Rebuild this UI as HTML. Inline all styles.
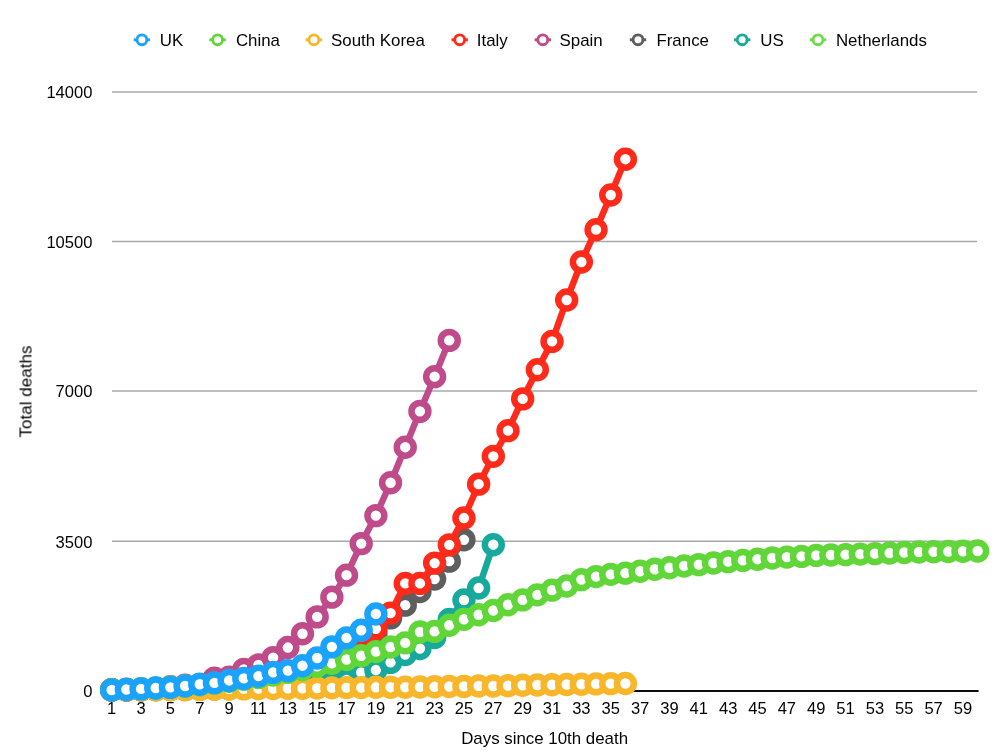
<!DOCTYPE html>
<html><head><meta charset="utf-8"><title>Chart</title>
<style>html,body{margin:0;padding:0;background:#fff;}body{width:1000px;height:754px;position:relative;overflow:hidden;font-family:"Liberation Sans",sans-serif;}</style></head>
<body>
<svg width="1000" height="754" viewBox="0 0 1000 754" style="position:absolute;left:0;top:0">
<line x1="112" y1="92.00" x2="977.2" y2="92.00" stroke="#a9a9a9" stroke-width="1.6"/>
<line x1="112" y1="241.50" x2="977.2" y2="241.50" stroke="#a9a9a9" stroke-width="1.6"/>
<line x1="112" y1="391.00" x2="977.2" y2="391.00" stroke="#a9a9a9" stroke-width="1.6"/>
<line x1="112" y1="541.30" x2="977.2" y2="541.30" stroke="#a9a9a9" stroke-width="1.6"/>
<line x1="111" y1="691" x2="978.6" y2="691" stroke="#0d0d0d" stroke-width="2"/>
<g stroke="#6FDB4A" fill="#fff">
<polyline points="111.70,689.97 126.38,689.89 141.05,689.55 155.73,689.37 170.41,688.56 185.09,687.92 199.76,687.15 214.44,685.87 229.12,684.59 243.79,682.75 258.47,681.30 273.15,678.60 287.83,675.18 302.50,671.85 317.18,667.06 331.86,663.09 346.53,657.45 361.21,653.47 375.89,645.99" fill="none" stroke-width="6.45" stroke-linejoin="round" stroke-linecap="round"/>
<circle cx="111.70" cy="689.97" r="8.45" stroke-width="6.5"/>
<circle cx="126.38" cy="689.89" r="8.45" stroke-width="6.5"/>
<circle cx="141.05" cy="689.55" r="8.45" stroke-width="6.5"/>
<circle cx="155.73" cy="689.37" r="8.45" stroke-width="6.5"/>
<circle cx="170.41" cy="688.56" r="8.45" stroke-width="6.5"/>
<circle cx="185.09" cy="687.92" r="8.45" stroke-width="6.5"/>
<circle cx="199.76" cy="687.15" r="8.45" stroke-width="6.5"/>
<circle cx="214.44" cy="685.87" r="8.45" stroke-width="6.5"/>
<circle cx="229.12" cy="684.59" r="8.45" stroke-width="6.5"/>
<circle cx="243.79" cy="682.75" r="8.45" stroke-width="6.5"/>
<circle cx="258.47" cy="681.30" r="8.45" stroke-width="6.5"/>
<circle cx="273.15" cy="678.60" r="8.45" stroke-width="6.5"/>
<circle cx="287.83" cy="675.18" r="8.45" stroke-width="6.5"/>
<circle cx="302.50" cy="671.85" r="8.45" stroke-width="6.5"/>
<circle cx="317.18" cy="667.06" r="8.45" stroke-width="6.5"/>
<circle cx="331.86" cy="663.09" r="8.45" stroke-width="6.5"/>
<circle cx="346.53" cy="657.45" r="8.45" stroke-width="6.5"/>
<circle cx="361.21" cy="653.47" r="8.45" stroke-width="6.5"/>
<circle cx="375.89" cy="645.99" r="8.45" stroke-width="6.5"/>
</g>
<g stroke="#17A99C" fill="#fff">
<polyline points="111.70,689.93 126.38,689.89 141.05,689.80 155.73,689.67 170.41,689.50 185.09,689.46 199.76,689.20 214.44,688.86 229.12,688.69 243.79,688.39 258.47,688.09 273.15,687.71 287.83,686.77 302.50,685.78 317.18,683.99 331.86,681.85 346.53,679.97 361.21,672.49 375.89,670.01 390.57,662.40 405.24,654.54 419.92,648.51 434.60,637.48 449.27,619.40 463.95,600.04 478.63,588.07 493.31,544.69" fill="none" stroke-width="6.45" stroke-linejoin="round" stroke-linecap="round"/>
<circle cx="111.70" cy="689.93" r="8.45" stroke-width="6.5"/>
<circle cx="126.38" cy="689.89" r="8.45" stroke-width="6.5"/>
<circle cx="141.05" cy="689.80" r="8.45" stroke-width="6.5"/>
<circle cx="155.73" cy="689.67" r="8.45" stroke-width="6.5"/>
<circle cx="170.41" cy="689.50" r="8.45" stroke-width="6.5"/>
<circle cx="185.09" cy="689.46" r="8.45" stroke-width="6.5"/>
<circle cx="199.76" cy="689.20" r="8.45" stroke-width="6.5"/>
<circle cx="214.44" cy="688.86" r="8.45" stroke-width="6.5"/>
<circle cx="229.12" cy="688.69" r="8.45" stroke-width="6.5"/>
<circle cx="243.79" cy="688.39" r="8.45" stroke-width="6.5"/>
<circle cx="258.47" cy="688.09" r="8.45" stroke-width="6.5"/>
<circle cx="273.15" cy="687.71" r="8.45" stroke-width="6.5"/>
<circle cx="287.83" cy="686.77" r="8.45" stroke-width="6.5"/>
<circle cx="302.50" cy="685.78" r="8.45" stroke-width="6.5"/>
<circle cx="317.18" cy="683.99" r="8.45" stroke-width="6.5"/>
<circle cx="331.86" cy="681.85" r="8.45" stroke-width="6.5"/>
<circle cx="346.53" cy="679.97" r="8.45" stroke-width="6.5"/>
<circle cx="361.21" cy="672.49" r="8.45" stroke-width="6.5"/>
<circle cx="375.89" cy="670.01" r="8.45" stroke-width="6.5"/>
<circle cx="390.57" cy="662.40" r="8.45" stroke-width="6.5"/>
<circle cx="405.24" cy="654.54" r="8.45" stroke-width="6.5"/>
<circle cx="419.92" cy="648.51" r="8.45" stroke-width="6.5"/>
<circle cx="434.60" cy="637.48" r="8.45" stroke-width="6.5"/>
<circle cx="449.27" cy="619.40" r="8.45" stroke-width="6.5"/>
<circle cx="463.95" cy="600.04" r="8.45" stroke-width="6.5"/>
<circle cx="478.63" cy="588.07" r="8.45" stroke-width="6.5"/>
<circle cx="493.31" cy="544.69" r="8.45" stroke-width="6.5"/>
</g>
<g stroke="#5E5E5E" fill="#fff">
<polyline points="111.70,689.72 126.38,689.59 141.05,689.12 155.73,688.99 170.41,688.35 185.09,687.79 199.76,687.02 214.44,686.51 229.12,684.97 243.79,684.07 258.47,682.92 273.15,679.12 287.83,674.50 302.50,671.17 317.18,666.38 331.86,661.59 346.53,653.64 361.21,643.38 375.89,633.51 390.57,617.91 405.24,605.13 419.92,591.49 434.60,579.01 449.27,561.15 463.95,539.82" fill="none" stroke-width="6.45" stroke-linejoin="round" stroke-linecap="round"/>
<circle cx="111.70" cy="689.72" r="8.45" stroke-width="6.5"/>
<circle cx="126.38" cy="689.59" r="8.45" stroke-width="6.5"/>
<circle cx="141.05" cy="689.12" r="8.45" stroke-width="6.5"/>
<circle cx="155.73" cy="688.99" r="8.45" stroke-width="6.5"/>
<circle cx="170.41" cy="688.35" r="8.45" stroke-width="6.5"/>
<circle cx="185.09" cy="687.79" r="8.45" stroke-width="6.5"/>
<circle cx="199.76" cy="687.02" r="8.45" stroke-width="6.5"/>
<circle cx="214.44" cy="686.51" r="8.45" stroke-width="6.5"/>
<circle cx="229.12" cy="684.97" r="8.45" stroke-width="6.5"/>
<circle cx="243.79" cy="684.07" r="8.45" stroke-width="6.5"/>
<circle cx="258.47" cy="682.92" r="8.45" stroke-width="6.5"/>
<circle cx="273.15" cy="679.12" r="8.45" stroke-width="6.5"/>
<circle cx="287.83" cy="674.50" r="8.45" stroke-width="6.5"/>
<circle cx="302.50" cy="671.17" r="8.45" stroke-width="6.5"/>
<circle cx="317.18" cy="666.38" r="8.45" stroke-width="6.5"/>
<circle cx="331.86" cy="661.59" r="8.45" stroke-width="6.5"/>
<circle cx="346.53" cy="653.64" r="8.45" stroke-width="6.5"/>
<circle cx="361.21" cy="643.38" r="8.45" stroke-width="6.5"/>
<circle cx="375.89" cy="633.51" r="8.45" stroke-width="6.5"/>
<circle cx="390.57" cy="617.91" r="8.45" stroke-width="6.5"/>
<circle cx="405.24" cy="605.13" r="8.45" stroke-width="6.5"/>
<circle cx="419.92" cy="591.49" r="8.45" stroke-width="6.5"/>
<circle cx="434.60" cy="579.01" r="8.45" stroke-width="6.5"/>
<circle cx="449.27" cy="561.15" r="8.45" stroke-width="6.5"/>
<circle cx="463.95" cy="539.82" r="8.45" stroke-width="6.5"/>
</g>
<g stroke="#BF4B8B" fill="#fff">
<polyline points="111.70,689.67 126.38,689.20 141.05,688.90 155.73,688.39 170.41,686.81 185.09,685.27 199.76,684.59 214.44,678.09 229.12,677.19 243.79,669.41 258.47,664.84 273.15,657.62 287.83,647.57 302.50,633.72 317.18,616.88 331.86,597.14 346.53,575.17 361.21,543.62 375.89,515.62 390.57,482.76 405.24,447.19 419.92,411.37 434.60,376.67 449.27,340.38" fill="none" stroke-width="6.45" stroke-linejoin="round" stroke-linecap="round"/>
<circle cx="111.70" cy="689.67" r="8.45" stroke-width="6.5"/>
<circle cx="126.38" cy="689.20" r="8.45" stroke-width="6.5"/>
<circle cx="141.05" cy="688.90" r="8.45" stroke-width="6.5"/>
<circle cx="155.73" cy="688.39" r="8.45" stroke-width="6.5"/>
<circle cx="170.41" cy="686.81" r="8.45" stroke-width="6.5"/>
<circle cx="185.09" cy="685.27" r="8.45" stroke-width="6.5"/>
<circle cx="199.76" cy="684.59" r="8.45" stroke-width="6.5"/>
<circle cx="214.44" cy="678.09" r="8.45" stroke-width="6.5"/>
<circle cx="229.12" cy="677.19" r="8.45" stroke-width="6.5"/>
<circle cx="243.79" cy="669.41" r="8.45" stroke-width="6.5"/>
<circle cx="258.47" cy="664.84" r="8.45" stroke-width="6.5"/>
<circle cx="273.15" cy="657.62" r="8.45" stroke-width="6.5"/>
<circle cx="287.83" cy="647.57" r="8.45" stroke-width="6.5"/>
<circle cx="302.50" cy="633.72" r="8.45" stroke-width="6.5"/>
<circle cx="317.18" cy="616.88" r="8.45" stroke-width="6.5"/>
<circle cx="331.86" cy="597.14" r="8.45" stroke-width="6.5"/>
<circle cx="346.53" cy="575.17" r="8.45" stroke-width="6.5"/>
<circle cx="361.21" cy="543.62" r="8.45" stroke-width="6.5"/>
<circle cx="375.89" cy="515.62" r="8.45" stroke-width="6.5"/>
<circle cx="390.57" cy="482.76" r="8.45" stroke-width="6.5"/>
<circle cx="405.24" cy="447.19" r="8.45" stroke-width="6.5"/>
<circle cx="419.92" cy="411.37" r="8.45" stroke-width="6.5"/>
<circle cx="434.60" cy="376.67" r="8.45" stroke-width="6.5"/>
<circle cx="449.27" cy="340.38" r="8.45" stroke-width="6.5"/>
</g>
<g stroke="#FF2A1A" fill="#fff">
<polyline points="111.70,689.97 126.38,689.89 141.05,689.67 155.73,689.50 170.41,689.16 185.09,688.95 199.76,688.18 214.44,687.02 229.12,685.83 243.79,684.07 258.47,681.98 273.15,680.44 287.83,674.76 302.50,670.61 317.18,663.43 331.86,655.05 346.53,646.97 361.21,636.29 375.89,628.81 390.57,613.08 405.24,583.41 419.92,583.41 434.60,563.11 449.27,544.86 463.95,518.06 478.63,484.17 493.31,456.34 507.98,430.65 522.66,398.89 537.34,369.70 552.01,341.40 566.69,299.99 581.37,261.99 596.04,229.67 610.72,194.97 625.40,159.19" fill="none" stroke-width="6.45" stroke-linejoin="round" stroke-linecap="round"/>
<circle cx="111.70" cy="689.97" r="8.45" stroke-width="6.5"/>
<circle cx="126.38" cy="689.89" r="8.45" stroke-width="6.5"/>
<circle cx="141.05" cy="689.67" r="8.45" stroke-width="6.5"/>
<circle cx="155.73" cy="689.50" r="8.45" stroke-width="6.5"/>
<circle cx="170.41" cy="689.16" r="8.45" stroke-width="6.5"/>
<circle cx="185.09" cy="688.95" r="8.45" stroke-width="6.5"/>
<circle cx="199.76" cy="688.18" r="8.45" stroke-width="6.5"/>
<circle cx="214.44" cy="687.02" r="8.45" stroke-width="6.5"/>
<circle cx="229.12" cy="685.83" r="8.45" stroke-width="6.5"/>
<circle cx="243.79" cy="684.07" r="8.45" stroke-width="6.5"/>
<circle cx="258.47" cy="681.98" r="8.45" stroke-width="6.5"/>
<circle cx="273.15" cy="680.44" r="8.45" stroke-width="6.5"/>
<circle cx="287.83" cy="674.76" r="8.45" stroke-width="6.5"/>
<circle cx="302.50" cy="670.61" r="8.45" stroke-width="6.5"/>
<circle cx="317.18" cy="663.43" r="8.45" stroke-width="6.5"/>
<circle cx="331.86" cy="655.05" r="8.45" stroke-width="6.5"/>
<circle cx="346.53" cy="646.97" r="8.45" stroke-width="6.5"/>
<circle cx="361.21" cy="636.29" r="8.45" stroke-width="6.5"/>
<circle cx="375.89" cy="628.81" r="8.45" stroke-width="6.5"/>
<circle cx="390.57" cy="613.08" r="8.45" stroke-width="6.5"/>
<circle cx="405.24" cy="583.41" r="8.45" stroke-width="6.5"/>
<circle cx="419.92" cy="583.41" r="8.45" stroke-width="6.5"/>
<circle cx="434.60" cy="563.11" r="8.45" stroke-width="6.5"/>
<circle cx="449.27" cy="544.86" r="8.45" stroke-width="6.5"/>
<circle cx="463.95" cy="518.06" r="8.45" stroke-width="6.5"/>
<circle cx="478.63" cy="484.17" r="8.45" stroke-width="6.5"/>
<circle cx="493.31" cy="456.34" r="8.45" stroke-width="6.5"/>
<circle cx="507.98" cy="430.65" r="8.45" stroke-width="6.5"/>
<circle cx="522.66" cy="398.89" r="8.45" stroke-width="6.5"/>
<circle cx="537.34" cy="369.70" r="8.45" stroke-width="6.5"/>
<circle cx="552.01" cy="341.40" r="8.45" stroke-width="6.5"/>
<circle cx="566.69" cy="299.99" r="8.45" stroke-width="6.5"/>
<circle cx="581.37" cy="261.99" r="8.45" stroke-width="6.5"/>
<circle cx="596.04" cy="229.67" r="8.45" stroke-width="6.5"/>
<circle cx="610.72" cy="194.97" r="8.45" stroke-width="6.5"/>
<circle cx="625.40" cy="159.19" r="8.45" stroke-width="6.5"/>
</g>
<g stroke="#F8B62B" fill="#fff">
<polyline points="111.70,689.97 126.38,689.89 141.05,689.84 155.73,689.84 170.41,689.72 185.09,689.67 199.76,689.46 214.44,689.20 229.12,689.03 243.79,688.90 258.47,688.60 273.15,688.52 287.83,688.26 302.50,688.22 317.18,688.09 331.86,687.84 346.53,687.58 361.21,687.58 375.89,687.32 390.57,687.19 405.24,687.19 419.92,686.94 434.60,686.81 449.27,686.51 463.95,686.38 478.63,686.04 493.31,685.95 507.98,685.66 522.66,685.27 537.34,685.01 552.01,684.80 566.69,684.46 581.37,684.25 596.04,683.90 610.72,683.65 625.40,683.48" fill="none" stroke-width="6.45" stroke-linejoin="round" stroke-linecap="round"/>
<circle cx="111.70" cy="689.97" r="8.45" stroke-width="6.5"/>
<circle cx="126.38" cy="689.89" r="8.45" stroke-width="6.5"/>
<circle cx="141.05" cy="689.84" r="8.45" stroke-width="6.5"/>
<circle cx="155.73" cy="689.84" r="8.45" stroke-width="6.5"/>
<circle cx="170.41" cy="689.72" r="8.45" stroke-width="6.5"/>
<circle cx="185.09" cy="689.67" r="8.45" stroke-width="6.5"/>
<circle cx="199.76" cy="689.46" r="8.45" stroke-width="6.5"/>
<circle cx="214.44" cy="689.20" r="8.45" stroke-width="6.5"/>
<circle cx="229.12" cy="689.03" r="8.45" stroke-width="6.5"/>
<circle cx="243.79" cy="688.90" r="8.45" stroke-width="6.5"/>
<circle cx="258.47" cy="688.60" r="8.45" stroke-width="6.5"/>
<circle cx="273.15" cy="688.52" r="8.45" stroke-width="6.5"/>
<circle cx="287.83" cy="688.26" r="8.45" stroke-width="6.5"/>
<circle cx="302.50" cy="688.22" r="8.45" stroke-width="6.5"/>
<circle cx="317.18" cy="688.09" r="8.45" stroke-width="6.5"/>
<circle cx="331.86" cy="687.84" r="8.45" stroke-width="6.5"/>
<circle cx="346.53" cy="687.58" r="8.45" stroke-width="6.5"/>
<circle cx="361.21" cy="687.58" r="8.45" stroke-width="6.5"/>
<circle cx="375.89" cy="687.32" r="8.45" stroke-width="6.5"/>
<circle cx="390.57" cy="687.19" r="8.45" stroke-width="6.5"/>
<circle cx="405.24" cy="687.19" r="8.45" stroke-width="6.5"/>
<circle cx="419.92" cy="686.94" r="8.45" stroke-width="6.5"/>
<circle cx="434.60" cy="686.81" r="8.45" stroke-width="6.5"/>
<circle cx="449.27" cy="686.51" r="8.45" stroke-width="6.5"/>
<circle cx="463.95" cy="686.38" r="8.45" stroke-width="6.5"/>
<circle cx="478.63" cy="686.04" r="8.45" stroke-width="6.5"/>
<circle cx="493.31" cy="685.95" r="8.45" stroke-width="6.5"/>
<circle cx="507.98" cy="685.66" r="8.45" stroke-width="6.5"/>
<circle cx="522.66" cy="685.27" r="8.45" stroke-width="6.5"/>
<circle cx="537.34" cy="685.01" r="8.45" stroke-width="6.5"/>
<circle cx="552.01" cy="684.80" r="8.45" stroke-width="6.5"/>
<circle cx="566.69" cy="684.46" r="8.45" stroke-width="6.5"/>
<circle cx="581.37" cy="684.25" r="8.45" stroke-width="6.5"/>
<circle cx="596.04" cy="683.90" r="8.45" stroke-width="6.5"/>
<circle cx="610.72" cy="683.65" r="8.45" stroke-width="6.5"/>
<circle cx="625.40" cy="683.48" r="8.45" stroke-width="6.5"/>
</g>
<g stroke="#61D639" fill="#fff">
<polyline points="111.70,689.67 126.38,689.33 141.05,688.65 155.73,688.01 170.41,686.98 185.09,685.87 199.76,684.76 214.44,683.13 229.12,681.30 243.79,679.33 258.47,677.41 273.15,674.97 287.83,672.23 302.50,669.46 317.18,666.34 331.86,663.22 346.53,659.54 361.21,655.74 375.89,651.59 390.57,646.97 405.24,642.83 419.92,631.97 434.60,631.41 449.27,625.30 463.95,619.23 478.63,614.75 493.31,610.56 507.98,604.74 522.66,599.87 537.34,594.83 552.01,590.17 566.69,586.02 581.37,579.61 596.04,576.58 610.72,574.35 625.40,573.11 640.08,571.23 654.75,569.22 669.43,567.73 684.11,565.93 698.78,564.61 713.46,562.98 728.14,561.66 742.82,560.38 757.49,559.18 772.17,558.03 786.85,557.09 801.52,556.36 816.20,555.42 830.88,554.95 845.56,554.65 860.23,554.09 874.91,553.67 889.59,553.07 904.26,552.51 918.94,552.04 933.62,551.70 948.30,551.57 962.97,551.27 977.65,551.02" fill="none" stroke-width="6.45" stroke-linejoin="round" stroke-linecap="round"/>
<circle cx="111.70" cy="689.67" r="8.45" stroke-width="6.5"/>
<circle cx="126.38" cy="689.33" r="8.45" stroke-width="6.5"/>
<circle cx="141.05" cy="688.65" r="8.45" stroke-width="6.5"/>
<circle cx="155.73" cy="688.01" r="8.45" stroke-width="6.5"/>
<circle cx="170.41" cy="686.98" r="8.45" stroke-width="6.5"/>
<circle cx="185.09" cy="685.87" r="8.45" stroke-width="6.5"/>
<circle cx="199.76" cy="684.76" r="8.45" stroke-width="6.5"/>
<circle cx="214.44" cy="683.13" r="8.45" stroke-width="6.5"/>
<circle cx="229.12" cy="681.30" r="8.45" stroke-width="6.5"/>
<circle cx="243.79" cy="679.33" r="8.45" stroke-width="6.5"/>
<circle cx="258.47" cy="677.41" r="8.45" stroke-width="6.5"/>
<circle cx="273.15" cy="674.97" r="8.45" stroke-width="6.5"/>
<circle cx="287.83" cy="672.23" r="8.45" stroke-width="6.5"/>
<circle cx="302.50" cy="669.46" r="8.45" stroke-width="6.5"/>
<circle cx="317.18" cy="666.34" r="8.45" stroke-width="6.5"/>
<circle cx="331.86" cy="663.22" r="8.45" stroke-width="6.5"/>
<circle cx="346.53" cy="659.54" r="8.45" stroke-width="6.5"/>
<circle cx="361.21" cy="655.74" r="8.45" stroke-width="6.5"/>
<circle cx="375.89" cy="651.59" r="8.45" stroke-width="6.5"/>
<circle cx="390.57" cy="646.97" r="8.45" stroke-width="6.5"/>
<circle cx="405.24" cy="642.83" r="8.45" stroke-width="6.5"/>
<circle cx="419.92" cy="631.97" r="8.45" stroke-width="6.5"/>
<circle cx="434.60" cy="631.41" r="8.45" stroke-width="6.5"/>
<circle cx="449.27" cy="625.30" r="8.45" stroke-width="6.5"/>
<circle cx="463.95" cy="619.23" r="8.45" stroke-width="6.5"/>
<circle cx="478.63" cy="614.75" r="8.45" stroke-width="6.5"/>
<circle cx="493.31" cy="610.56" r="8.45" stroke-width="6.5"/>
<circle cx="507.98" cy="604.74" r="8.45" stroke-width="6.5"/>
<circle cx="522.66" cy="599.87" r="8.45" stroke-width="6.5"/>
<circle cx="537.34" cy="594.83" r="8.45" stroke-width="6.5"/>
<circle cx="552.01" cy="590.17" r="8.45" stroke-width="6.5"/>
<circle cx="566.69" cy="586.02" r="8.45" stroke-width="6.5"/>
<circle cx="581.37" cy="579.61" r="8.45" stroke-width="6.5"/>
<circle cx="596.04" cy="576.58" r="8.45" stroke-width="6.5"/>
<circle cx="610.72" cy="574.35" r="8.45" stroke-width="6.5"/>
<circle cx="625.40" cy="573.11" r="8.45" stroke-width="6.5"/>
<circle cx="640.08" cy="571.23" r="8.45" stroke-width="6.5"/>
<circle cx="654.75" cy="569.22" r="8.45" stroke-width="6.5"/>
<circle cx="669.43" cy="567.73" r="8.45" stroke-width="6.5"/>
<circle cx="684.11" cy="565.93" r="8.45" stroke-width="6.5"/>
<circle cx="698.78" cy="564.61" r="8.45" stroke-width="6.5"/>
<circle cx="713.46" cy="562.98" r="8.45" stroke-width="6.5"/>
<circle cx="728.14" cy="561.66" r="8.45" stroke-width="6.5"/>
<circle cx="742.82" cy="560.38" r="8.45" stroke-width="6.5"/>
<circle cx="757.49" cy="559.18" r="8.45" stroke-width="6.5"/>
<circle cx="772.17" cy="558.03" r="8.45" stroke-width="6.5"/>
<circle cx="786.85" cy="557.09" r="8.45" stroke-width="6.5"/>
<circle cx="801.52" cy="556.36" r="8.45" stroke-width="6.5"/>
<circle cx="816.20" cy="555.42" r="8.45" stroke-width="6.5"/>
<circle cx="830.88" cy="554.95" r="8.45" stroke-width="6.5"/>
<circle cx="845.56" cy="554.65" r="8.45" stroke-width="6.5"/>
<circle cx="860.23" cy="554.09" r="8.45" stroke-width="6.5"/>
<circle cx="874.91" cy="553.67" r="8.45" stroke-width="6.5"/>
<circle cx="889.59" cy="553.07" r="8.45" stroke-width="6.5"/>
<circle cx="904.26" cy="552.51" r="8.45" stroke-width="6.5"/>
<circle cx="918.94" cy="552.04" r="8.45" stroke-width="6.5"/>
<circle cx="933.62" cy="551.70" r="8.45" stroke-width="6.5"/>
<circle cx="948.30" cy="551.57" r="8.45" stroke-width="6.5"/>
<circle cx="962.97" cy="551.27" r="8.45" stroke-width="6.5"/>
<circle cx="977.65" cy="551.02" r="8.45" stroke-width="6.5"/>
</g>
<g stroke="#1AA3FC" fill="#fff">
<polyline points="111.70,689.97 126.38,689.50 141.05,688.90 155.73,688.05 170.41,687.37 185.09,685.95 199.76,684.25 214.44,682.83 229.12,680.44 243.79,678.39 258.47,676.08 273.15,672.36 287.83,670.61 302.50,665.69 317.18,657.96 331.86,646.85 346.53,637.91 361.21,630.22 375.89,613.93" fill="none" stroke-width="6.45" stroke-linejoin="round" stroke-linecap="round"/>
<circle cx="111.70" cy="689.97" r="8.45" stroke-width="6.5"/>
<circle cx="126.38" cy="689.50" r="8.45" stroke-width="6.5"/>
<circle cx="141.05" cy="688.90" r="8.45" stroke-width="6.5"/>
<circle cx="155.73" cy="688.05" r="8.45" stroke-width="6.5"/>
<circle cx="170.41" cy="687.37" r="8.45" stroke-width="6.5"/>
<circle cx="185.09" cy="685.95" r="8.45" stroke-width="6.5"/>
<circle cx="199.76" cy="684.25" r="8.45" stroke-width="6.5"/>
<circle cx="214.44" cy="682.83" r="8.45" stroke-width="6.5"/>
<circle cx="229.12" cy="680.44" r="8.45" stroke-width="6.5"/>
<circle cx="243.79" cy="678.39" r="8.45" stroke-width="6.5"/>
<circle cx="258.47" cy="676.08" r="8.45" stroke-width="6.5"/>
<circle cx="273.15" cy="672.36" r="8.45" stroke-width="6.5"/>
<circle cx="287.83" cy="670.61" r="8.45" stroke-width="6.5"/>
<circle cx="302.50" cy="665.69" r="8.45" stroke-width="6.5"/>
<circle cx="317.18" cy="657.96" r="8.45" stroke-width="6.5"/>
<circle cx="331.86" cy="646.85" r="8.45" stroke-width="6.5"/>
<circle cx="346.53" cy="637.91" r="8.45" stroke-width="6.5"/>
<circle cx="361.21" cy="630.22" r="8.45" stroke-width="6.5"/>
<circle cx="375.89" cy="613.93" r="8.45" stroke-width="6.5"/>
</g>
<g font-family="Liberation Sans, sans-serif" font-size="16.4" fill="#000" opacity="0.999">
<text transform="translate(92.50,98.30) scale(1.012,1)" text-anchor="end">14000</text>
<text transform="translate(92.50,247.80) scale(1.012,1)" text-anchor="end">10500</text>
<text transform="translate(92.50,397.30) scale(1.012,1)" text-anchor="end">7000</text>
<text transform="translate(92.50,547.60) scale(1.012,1)" text-anchor="end">3500</text>
<text transform="translate(92.60,696.50) scale(1.012,1)" text-anchor="end">0</text>
<text transform="translate(111.70,714.20) scale(1.01,1)" text-anchor="middle">1</text>
<text transform="translate(141.05,714.20) scale(1.01,1)" text-anchor="middle">3</text>
<text transform="translate(170.41,714.20) scale(1.01,1)" text-anchor="middle">5</text>
<text transform="translate(199.76,714.20) scale(1.01,1)" text-anchor="middle">7</text>
<text transform="translate(229.12,714.20) scale(1.01,1)" text-anchor="middle">9</text>
<text transform="translate(258.47,714.20) scale(1.01,1)" text-anchor="middle">11</text>
<text transform="translate(287.83,714.20) scale(1.01,1)" text-anchor="middle">13</text>
<text transform="translate(317.18,714.20) scale(1.01,1)" text-anchor="middle">15</text>
<text transform="translate(346.53,714.20) scale(1.01,1)" text-anchor="middle">17</text>
<text transform="translate(375.89,714.20) scale(1.01,1)" text-anchor="middle">19</text>
<text transform="translate(405.24,714.20) scale(1.01,1)" text-anchor="middle">21</text>
<text transform="translate(434.60,714.20) scale(1.01,1)" text-anchor="middle">23</text>
<text transform="translate(463.95,714.20) scale(1.01,1)" text-anchor="middle">25</text>
<text transform="translate(493.31,714.20) scale(1.01,1)" text-anchor="middle">27</text>
<text transform="translate(522.66,714.20) scale(1.01,1)" text-anchor="middle">29</text>
<text transform="translate(552.01,714.20) scale(1.01,1)" text-anchor="middle">31</text>
<text transform="translate(581.37,714.20) scale(1.01,1)" text-anchor="middle">33</text>
<text transform="translate(610.72,714.20) scale(1.01,1)" text-anchor="middle">35</text>
<text transform="translate(640.08,714.20) scale(1.01,1)" text-anchor="middle">37</text>
<text transform="translate(669.43,714.20) scale(1.01,1)" text-anchor="middle">39</text>
<text transform="translate(698.78,714.20) scale(1.01,1)" text-anchor="middle">41</text>
<text transform="translate(728.14,714.20) scale(1.01,1)" text-anchor="middle">43</text>
<text transform="translate(757.49,714.20) scale(1.01,1)" text-anchor="middle">45</text>
<text transform="translate(786.85,714.20) scale(1.01,1)" text-anchor="middle">47</text>
<text transform="translate(816.20,714.20) scale(1.01,1)" text-anchor="middle">49</text>
<text transform="translate(845.56,714.20) scale(1.01,1)" text-anchor="middle">51</text>
<text transform="translate(874.91,714.20) scale(1.01,1)" text-anchor="middle">53</text>
<text transform="translate(904.26,714.20) scale(1.01,1)" text-anchor="middle">55</text>
<text transform="translate(933.62,714.20) scale(1.01,1)" text-anchor="middle">57</text>
<text transform="translate(962.97,714.20) scale(1.01,1)" text-anchor="middle">59</text>
<text transform="translate(544.60,743.60) scale(1.03,1)" text-anchor="middle">Days since 10th death</text>
<text transform="translate(31.50,391.50) rotate(-90) scale(1.04,1)" text-anchor="middle">Total deaths</text>
<text transform="translate(159.73,45.90) scale(1.03,1)" text-anchor="start">UK</text>
<text transform="translate(235.90,45.90) scale(1.03,1)" text-anchor="start">China</text>
<text transform="translate(331.04,45.90) scale(1.03,1)" text-anchor="start">South Korea</text>
<text transform="translate(476.85,45.90) scale(1.03,1)" text-anchor="start">Italy</text>
<text transform="translate(559.53,45.90) scale(1.03,1)" text-anchor="start">Spain</text>
<text transform="translate(656.45,45.90) scale(1.03,1)" text-anchor="start">France</text>
<text transform="translate(760.32,45.90) scale(1.03,1)" text-anchor="start">US</text>
<text transform="translate(835.94,45.90) scale(1.03,1)" text-anchor="start">Netherlands</text>
</g>
<line x1="133.70" y1="39.8" x2="150.10" y2="39.8" stroke="#1AA3FC" stroke-width="2.9"/>
<circle cx="141.9" cy="39.8" r="4.95" fill="#fff" stroke="#1AA3FC" stroke-width="2.9"/>
<line x1="209.40" y1="39.8" x2="225.80" y2="39.8" stroke="#61D639" stroke-width="2.9"/>
<circle cx="217.6" cy="39.8" r="4.95" fill="#fff" stroke="#61D639" stroke-width="2.9"/>
<line x1="305.70" y1="39.8" x2="322.10" y2="39.8" stroke="#F8B62B" stroke-width="2.9"/>
<circle cx="313.9" cy="39.8" r="4.95" fill="#fff" stroke="#F8B62B" stroke-width="2.9"/>
<line x1="451.50" y1="39.8" x2="467.90" y2="39.8" stroke="#FF2A1A" stroke-width="2.9"/>
<circle cx="459.7" cy="39.8" r="4.95" fill="#fff" stroke="#FF2A1A" stroke-width="2.9"/>
<line x1="534.60" y1="39.8" x2="551.00" y2="39.8" stroke="#BF4B8B" stroke-width="2.9"/>
<circle cx="542.8" cy="39.8" r="4.95" fill="#fff" stroke="#BF4B8B" stroke-width="2.9"/>
<line x1="629.80" y1="39.8" x2="646.20" y2="39.8" stroke="#5E5E5E" stroke-width="2.9"/>
<circle cx="638" cy="39.8" r="4.95" fill="#fff" stroke="#5E5E5E" stroke-width="2.9"/>
<line x1="734.00" y1="39.8" x2="750.40" y2="39.8" stroke="#17A99C" stroke-width="2.9"/>
<circle cx="742.2" cy="39.8" r="4.95" fill="#fff" stroke="#17A99C" stroke-width="2.9"/>
<line x1="809.80" y1="39.8" x2="826.20" y2="39.8" stroke="#6FDB4A" stroke-width="2.9"/>
<circle cx="818" cy="39.8" r="4.95" fill="#fff" stroke="#6FDB4A" stroke-width="2.9"/>
</svg>
</body></html>
